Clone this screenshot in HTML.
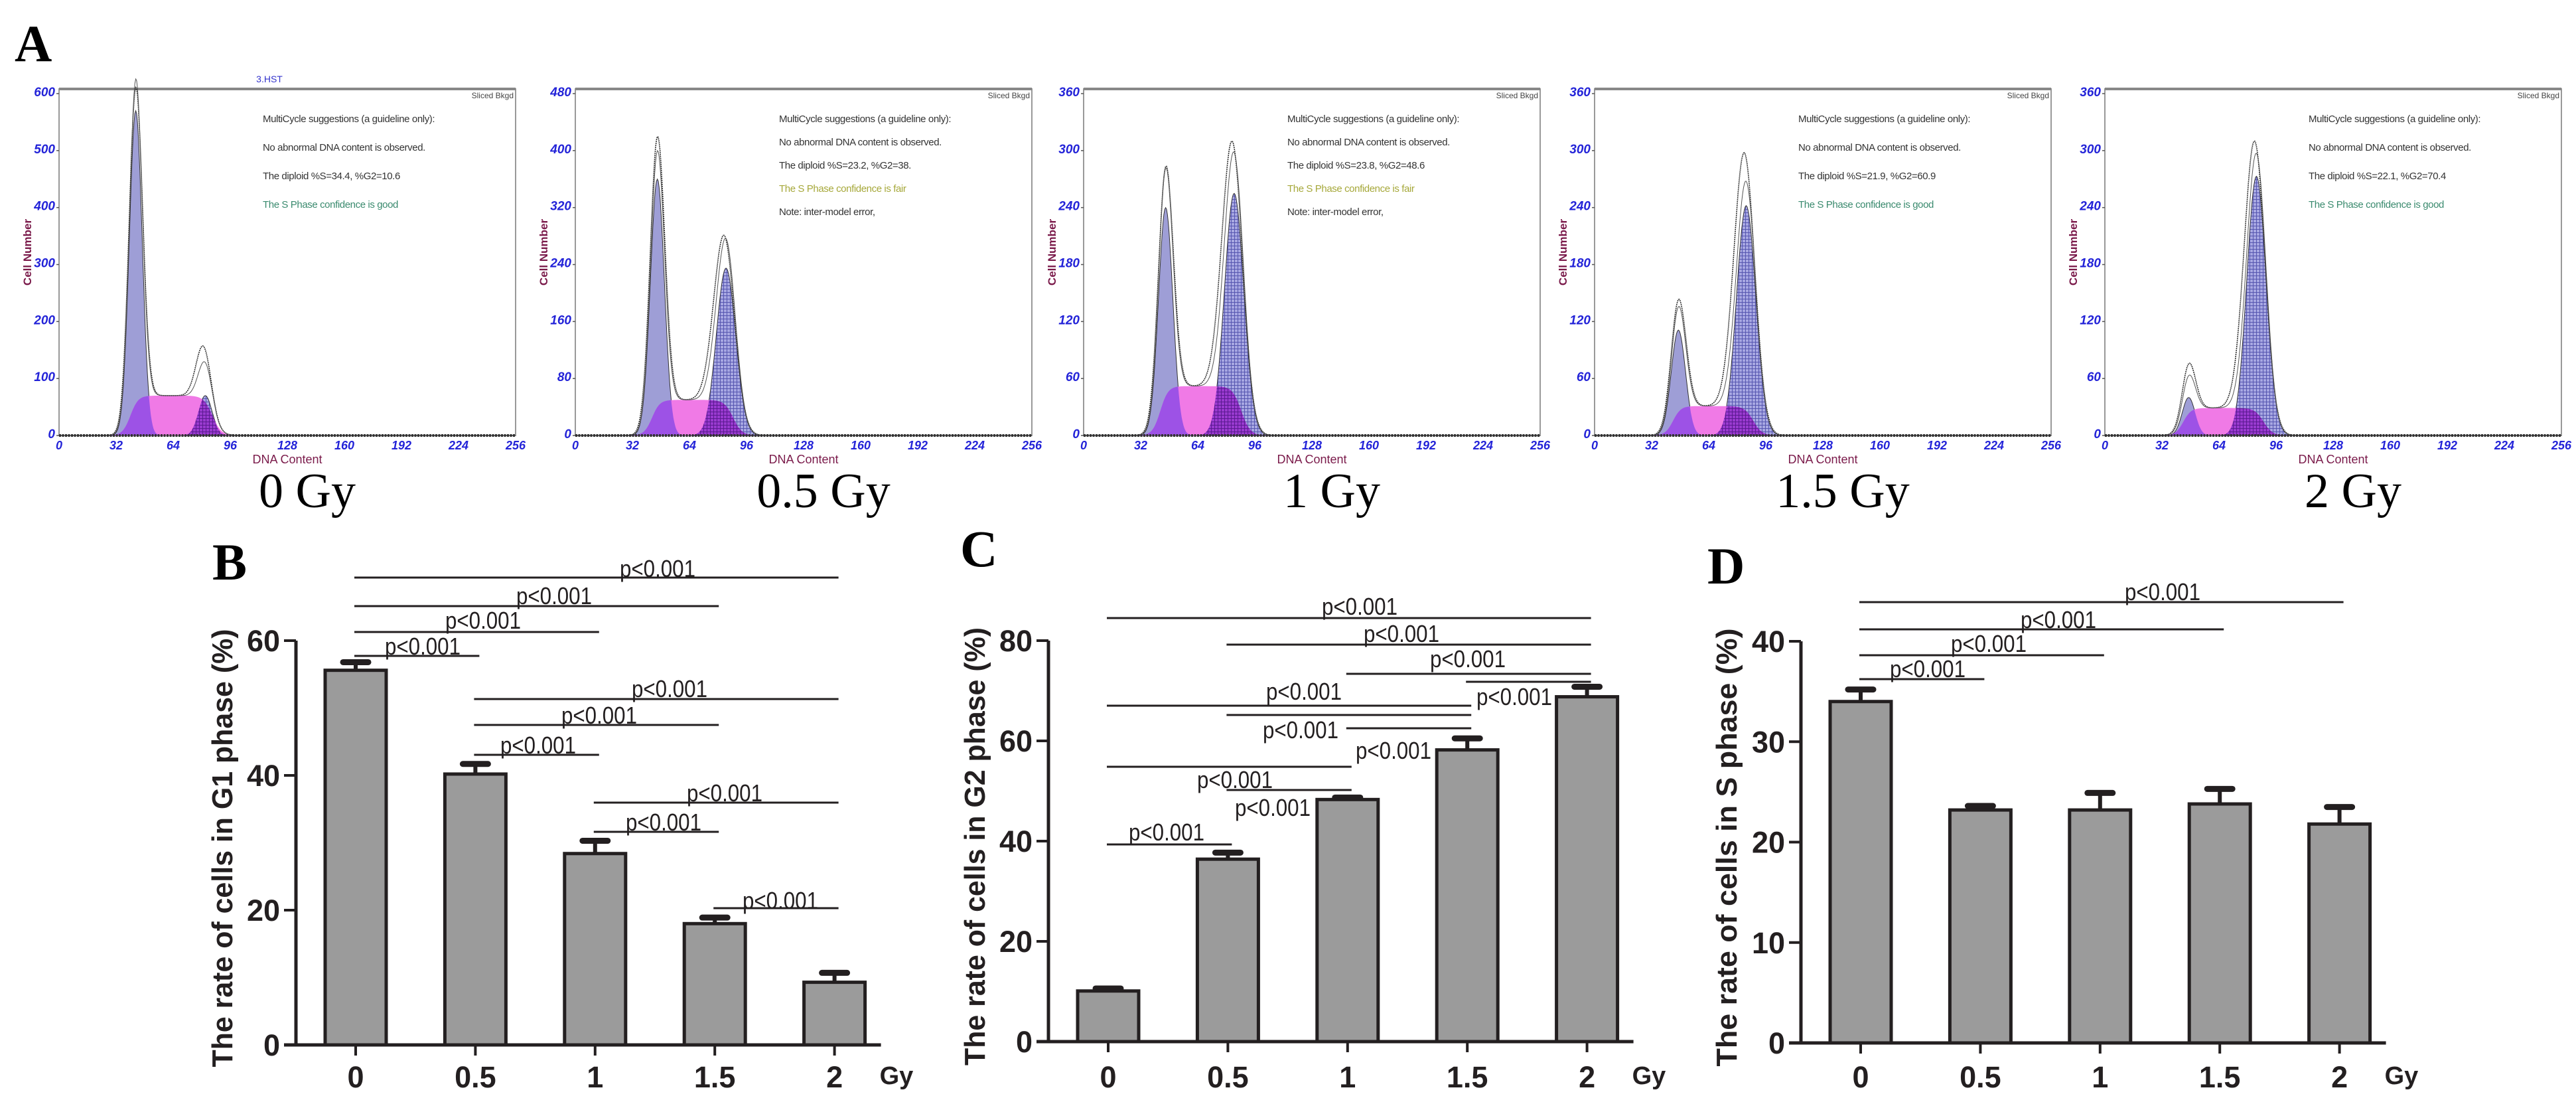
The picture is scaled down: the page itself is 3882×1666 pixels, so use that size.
<!DOCTYPE html>
<html><head><meta charset="utf-8"><style>
html,body{margin:0;padding:0;background:#fff;}
svg{display:block;}
</style></head><body>
<svg id="fig" width="3882" height="1666" viewBox="0 0 3882 1666" xmlns="http://www.w3.org/2000/svg">
<defs>
<pattern id="hatch" width="5" height="5" patternUnits="userSpaceOnUse">
<rect width="5" height="5" fill="#a8a8e2"/>
<path d="M0 0.5H5M0.5 0V5" stroke="#5656b0" stroke-width="1"/>
</pattern>
<pattern id="hatch2" width="5" height="5" patternUnits="userSpaceOnUse">
<rect width="5" height="5" fill="#9a3ad0"/>
<path d="M0 0.5H5M0.5 0V5" stroke="#5a1a90" stroke-width="1"/>
</pattern>
</defs>
<g id="root"></g>
</svg>
<script>
// ---------- Panel A data (flow cytometry histograms) ----------
const histLabels = ["0 Gy","0.5 Gy","1 Gy","1.5 Gy","2 Gy"];
const histYMax = [600,480,360,360,360];
const g1Mu = [43,46,46,47,47];
const g1Comp = [570,360,240,111,40];
const g1Obs = [590,405,268,134,67];
const g1Sd = [3.6,3.9,4.0,4.0,3.6];
const g2Mu = [82,84.5,84.4,85,85];
const g2Comp = [70,235,255,242,273];
const g2Obs = [130,262,290,286,299];
const g2Sd = [3.8,5.4,5.4,5.4,5.4];
const sLevel = [70,50,52,31,29];
const xTicksA = [0,32,64,96,128,160,192,224,256];
const infoText = [
 ["MultiCycle suggestions (a guideline only):","No abnormal DNA content is observed.","The diploid %S=34.4, %G2=10.6","The S Phase confidence is good"],
 ["MultiCycle suggestions (a guideline only):","No abnormal DNA content is observed.","The diploid %S=23.2, %G2=38.","The S Phase confidence is fair","Note: inter-model error,"],
 ["MultiCycle suggestions (a guideline only):","No abnormal DNA content is observed.","The diploid %S=23.8, %G2=48.6","The S Phase confidence is fair","Note: inter-model error,"],
 ["MultiCycle suggestions (a guideline only):","No abnormal DNA content is observed.","The diploid %S=21.9, %G2=60.9","The S Phase confidence is good"],
 ["MultiCycle suggestions (a guideline only):","No abnormal DNA content is observed.","The diploid %S=22.1, %G2=70.4","The S Phase confidence is good"]
];

// ---------- Panels B, C, D data ----------
const doseLabels = ["0","0.5","1","1.5","2"];
const g1Values = [55.6,40.2,28.4,18.0,9.3];
const g1Errors = [1.2,1.5,1.9,0.9,1.4];
const g1Ticks = [0,20,40,60];
const g2Values = [10.1,36.4,48.3,58.2,68.8];
const g2Errors = [0.5,1.3,0.4,2.3,2.0];
const g2Ticks = [0,20,40,60,80];
const sValues = [34.0,23.2,23.2,23.8,21.8];
const sErrors = [1.2,0.4,1.7,1.5,1.7];
const sTicks = [0,10,20,30,40];
const g1Pairs = [[0,4],[0,3],[0,2],[0,1],[1,4],[1,3],[1,2],[2,4],[2,3],[3,4]];
const g2Pairs = [[0,4],[1,4],[2,4],[3,4],[0,3],[1,3],[2,3],[0,2],[1,2],[0,1]];
const sPairs = [[0,4],[0,3],[0,2],[0,1]];

const NS="http://www.w3.org/2000/svg";
const root=document.getElementById('root');
function mk(tag,attrs,parent){const e=document.createElementNS(NS,tag);for(const k in attrs)e.setAttribute(k,attrs[k]);(parent||root).appendChild(e);return e;}
function txt(s,attrs,parent){const e=mk('text',attrs,parent);e.textContent=s;return e;}

// Panel letters
const letters=[["A",22,92],["B",320,873],["C",1447,853],["D",2573,879]];
letters.forEach(l=>{
 const t=txt(l[0],{x:l[1],y:l[2],'font-family':'Liberation Serif, serif','font-weight':'bold','font-size':78,fill:'#000'});
 
 
});

// ---------- Histograms ----------
const histLeft=[89,867,1633,2403,3172];
const HW=688, HTOP=134, HBASE=656, HMAXY=141;
function gauss(x,mu,sd){return Math.exp(-0.5*((x-mu)/sd)**2);}
function sig(z){return 1/(1+Math.exp(-z));}
histLeft.forEach((L,i)=>{
 const g=mk('g',{});
 
 
 const px=ch=>L+ch/256*HW;
 const py=v=>HBASE-v/histYMax[i]*(HBASE-HMAXY);
 const S=x=>sLevel[i]*sig((x-(g1Mu[i]-3))/2.2)*sig(((g2Mu[i]+4)-x)/2.5);
 const G1=x=>g1Comp[i]*gauss(x,g1Mu[i],g1Sd[i]);
 const G2=x=>g2Comp[i]*gauss(x,g2Mu[i],g2Sd[i]);
 const obs=x=>(g1Obs[i]-sLevel[i]*0.5)*gauss(x,g1Mu[i],g1Sd[i]*1.05)+S(x)+(g2Obs[i]-sLevel[i]*0.5)*gauss(x,g2Mu[i]-1,g2Sd[i]*1.08);
 function areaPath(f){let d='M'+px(0)+','+HBASE;for(let x=0;x<=256;x+=0.5){d+=' L'+px(x).toFixed(1)+','+py(f(x)).toFixed(1);}return d+' L'+px(256)+','+HBASE+'Z';}
 function linePath(f){let d='';for(let x=0;x<=256;x+=0.5){d+=(x?' L':'M')+px(x).toFixed(1)+','+py(f(x)).toFixed(1);}return d;}
 const fr=mk('rect',{x:L,y:HTOP,width:HW,height:HBASE-HTOP,fill:'#fff',stroke:'#999','stroke-width':2},g);
 
 
 const tb=mk('line',{x1:L,y1:HTOP,x2:L+HW,y2:HTOP,stroke:'#888','stroke-width':4},g);
 
 
 const c1=mk('clipPath',{id:'c1_'+i},g); mk('path',{d:areaPath(G1)},c1);
 const c2=mk('clipPath',{id:'c2_'+i},g); mk('path',{d:areaPath(G2)},c2);
 const a1=mk('path',{d:areaPath(G1),fill:'#9e9ed6',stroke:'#333','stroke-width':1},g);
 
 
 const a2=mk('path',{d:areaPath(G2),fill:'url(#hatch)',stroke:'#333','stroke-width':1},g);
 
 
 const as=mk('path',{d:areaPath(S),fill:'#f07ae6'},g);
 
 
 const o1=mk('path',{d:areaPath(S),fill:'#9d52e6','clip-path':'url(#c1_'+i+')'},g);
 
 
 const o2=mk('path',{d:areaPath(S),fill:'url(#hatch2)','clip-path':'url(#c2_'+i+')'},g);
 
 
 const ol=mk('path',{d:linePath(obs),fill:'none',stroke:'#333','stroke-width':1.6,'stroke-dasharray':'2 1'},g);
 
 
 const fl=mk('path',{d:linePath(x=>G1(x)+G2(x)+S(x)),fill:'none',stroke:'#555','stroke-width':1},g);
 
 
 const bl=mk('line',{x1:L,y1:HBASE,x2:L+HW,y2:HBASE,stroke:'#333','stroke-width':4,'stroke-dasharray':'3 1.5'},g);
 
 
 const step=histYMax[i]/6;
 for(let k=0;k<=6;k++){
  const v=k*step;
  const t=txt(String(Math.round(v)),{x:L-6,y:py(v)+4,'text-anchor':'end','font-family':'Liberation Sans, sans-serif','font-style':'italic','font-weight':'bold','font-size':19,fill:'#2323d8'},g);
  
  
  mk('line',{x1:L-4,y1:py(v),x2:L,y2:py(v),stroke:'#555','stroke-width':1.5},g);
 }
 xTicksA.forEach(ch=>{
  const t=txt(String(ch),{x:px(ch),y:677,'text-anchor':'middle','font-family':'Liberation Sans, sans-serif','font-style':'italic','font-weight':'bold','font-size':18,fill:'#2323d8'},g);
  
  
 });
 const xt=txt('DNA Content',{x:L+HW/2,y:698,'text-anchor':'middle','font-family':'Liberation Sans, sans-serif','font-size':18,fill:'#7a1a4a'},g);
 
 
 const yt=txt('Cell Number',{x:0,y:0,'text-anchor':'middle','font-family':'Liberation Sans, sans-serif','font-weight':'bold','font-size':17,fill:'#7a1a4a',transform:'translate('+(L-42)+',380) rotate(-90)'},g);
 
 
 const sb=txt('Sliced Bkgd',{x:L+HW-3,y:148,'text-anchor':'end','font-family':'Liberation Sans, sans-serif','font-size':12,fill:'#444'},g);
 
 
 const lines=infoText[i]; const sp=lines.length===5?35:43;
 lines.forEach((s,k)=>{
  let col='#333'; if(s.indexOf('good')>=0)col='#3a8a6e'; if(s.indexOf('fair')>=0)col='#a6a83a';
  const t=txt(s,{x:L+307,y:184+k*sp,'font-family':'Liberation Sans, sans-serif','font-size':15,'letter-spacing':'-0.4',fill:col},g);
  
  
 });
 const lab=txt(histLabels[i],{x:L+HW/2+30,y:764,'text-anchor':'middle','font-family':'Liberation Serif, serif','font-size':74,fill:'#000'},g);
 
 
});
const hst=txt('3.HST',{x:406,y:124,'text-anchor':'middle','font-family':'Liberation Sans, sans-serif','font-size':14,fill:'#3333cc'});



// ---------- Bar charts ----------
function barChart(cfg){
 const g=mk('g',{});
 
 
 const ymax=cfg.ticks[cfg.ticks.length-1];
 const Y=v=>cfg.y0-v/ymax*(cfg.y0-cfg.yTop);
 const X=i=>cfg.x0+i*180.4;
 const F="Liberation Sans, sans-serif";
 cfg.values.forEach((v,i)=>{
  const e=mk('line',{x1:X(i),y1:Y(v),x2:X(i),y2:Y(v+cfg.errors[i]),stroke:'#231f20','stroke-width':6},g);
  
  
  const c=mk('line',{x1:X(i)-19,y1:Y(v+cfg.errors[i]),x2:X(i)+19,y2:Y(v+cfg.errors[i]),stroke:'#231f20','stroke-width':9,'stroke-linecap':'round'},g);
  
  
  const b=mk('rect',{x:X(i)-46,y:Y(v),width:92,height:cfg.y0-Y(v),fill:'#9b9b9b',stroke:'#231f20','stroke-width':5},g);
  
  
  const t=txt(doseLabels[i],{x:X(i),y:1638,'text-anchor':'middle','font-family':F,'font-weight':'bold','font-size':45,fill:'#231f20'},g);
  
  
  mk('line',{x1:X(i),y1:cfg.y0,x2:X(i),y2:cfg.y0+16,stroke:'#231f20','stroke-width':4},g);
 });
 const gy=txt('Gy',{x:X(4)+68,y:1633,'font-family':F,'font-weight':'bold','font-size':38,fill:'#231f20'},g);
 
 
 const ya=mk('line',{x1:cfg.ax,y1:cfg.y0+2,x2:cfg.ax,y2:cfg.yTop,stroke:'#231f20','stroke-width':5},g);
 
 
 const xa=mk('line',{x1:cfg.ax-18,y1:cfg.y0,x2:X(4)+70,y2:cfg.y0,stroke:'#231f20','stroke-width':5},g);
 
 
 cfg.ticks.forEach(v=>{
  mk('line',{x1:cfg.ax-18,y1:Y(v),x2:cfg.ax,y2:Y(v),stroke:'#231f20','stroke-width':4},g);
  const t=txt(String(v),{x:cfg.ax-24,y:Y(v)+16,'text-anchor':'end','font-family':F,'font-weight':'bold','font-size':45,fill:'#231f20'},g);
  
  
 });
 const yt=txt(cfg.title,{x:0,y:0,'text-anchor':'middle','font-family':F,'font-weight':'bold','font-size':44,fill:'#231f20',textLength:660,lengthAdjust:'spacingAndGlyphs',transform:'translate('+cfg.titleX+','+((cfg.y0+cfg.yTop)/2+8)+') rotate(-90)'},g);
 
 
 cfg.pairs.forEach((p,k)=>{
  const l=mk('line',{x1:X(p[0])-2,y1:cfg.lineY[k],x2:X(p[1])+6,y2:cfg.lineY[k],stroke:'#231f20','stroke-width':3},g);
  
  
  const t=txt('p<0.001',{x:cfg.textPos[k][0],y:cfg.textPos[k][1]+13,'font-family':F,'font-size':36,fill:'#231f20',textLength:114,lengthAdjust:'spacingAndGlyphs'},g);
  
  
 });
}
barChart({name:'g1-phase-chart',values:g1Values,errors:g1Errors,ticks:g1Ticks,pairs:g1Pairs,ax:446,y0:1574,yTop:965,x0:536,titleX:350,
 title:'The rate of cells in G1 phase (%)',
 lineY:[870,913,952,988,1053,1092,1137,1209,1253,1368],
 textPos:[[934,856],[778,897],[671,934],[580,973],[952,1037],[846,1077],[754,1122],[1035,1194],[943,1238],[1119,1356]]});
barChart({name:'g2-phase-chart',values:g2Values,errors:g2Errors,ticks:g2Ticks,pairs:g2Pairs,ax:1580,y0:1569,yTop:965,x0:1670,titleX:1484,
 title:'The rate of cells in G2 phase (%)',
 lineY:[931,971,1015,1027,1063,1077,1097,1155,1190,1272],
 textPos:[[1992,913],[2055,954],[2155,992],[2225,1049],[1908,1041],[1903,1099],[2043,1130],[1804,1174],[1861,1216],[1701,1253]]});
barChart({name:'s-phase-chart',values:sValues,errors:sErrors,ticks:sTicks,pairs:sPairs,ax:2714,y0:1571,yTop:966,x0:2804,titleX:2617,
 title:'The rate of cells in S phase (%)',
 lineY:[907,948,987,1023],
 textPos:[[3202,891],[3045,933],[2940,969],[2848,1007]]});
</script>
</body></html>
